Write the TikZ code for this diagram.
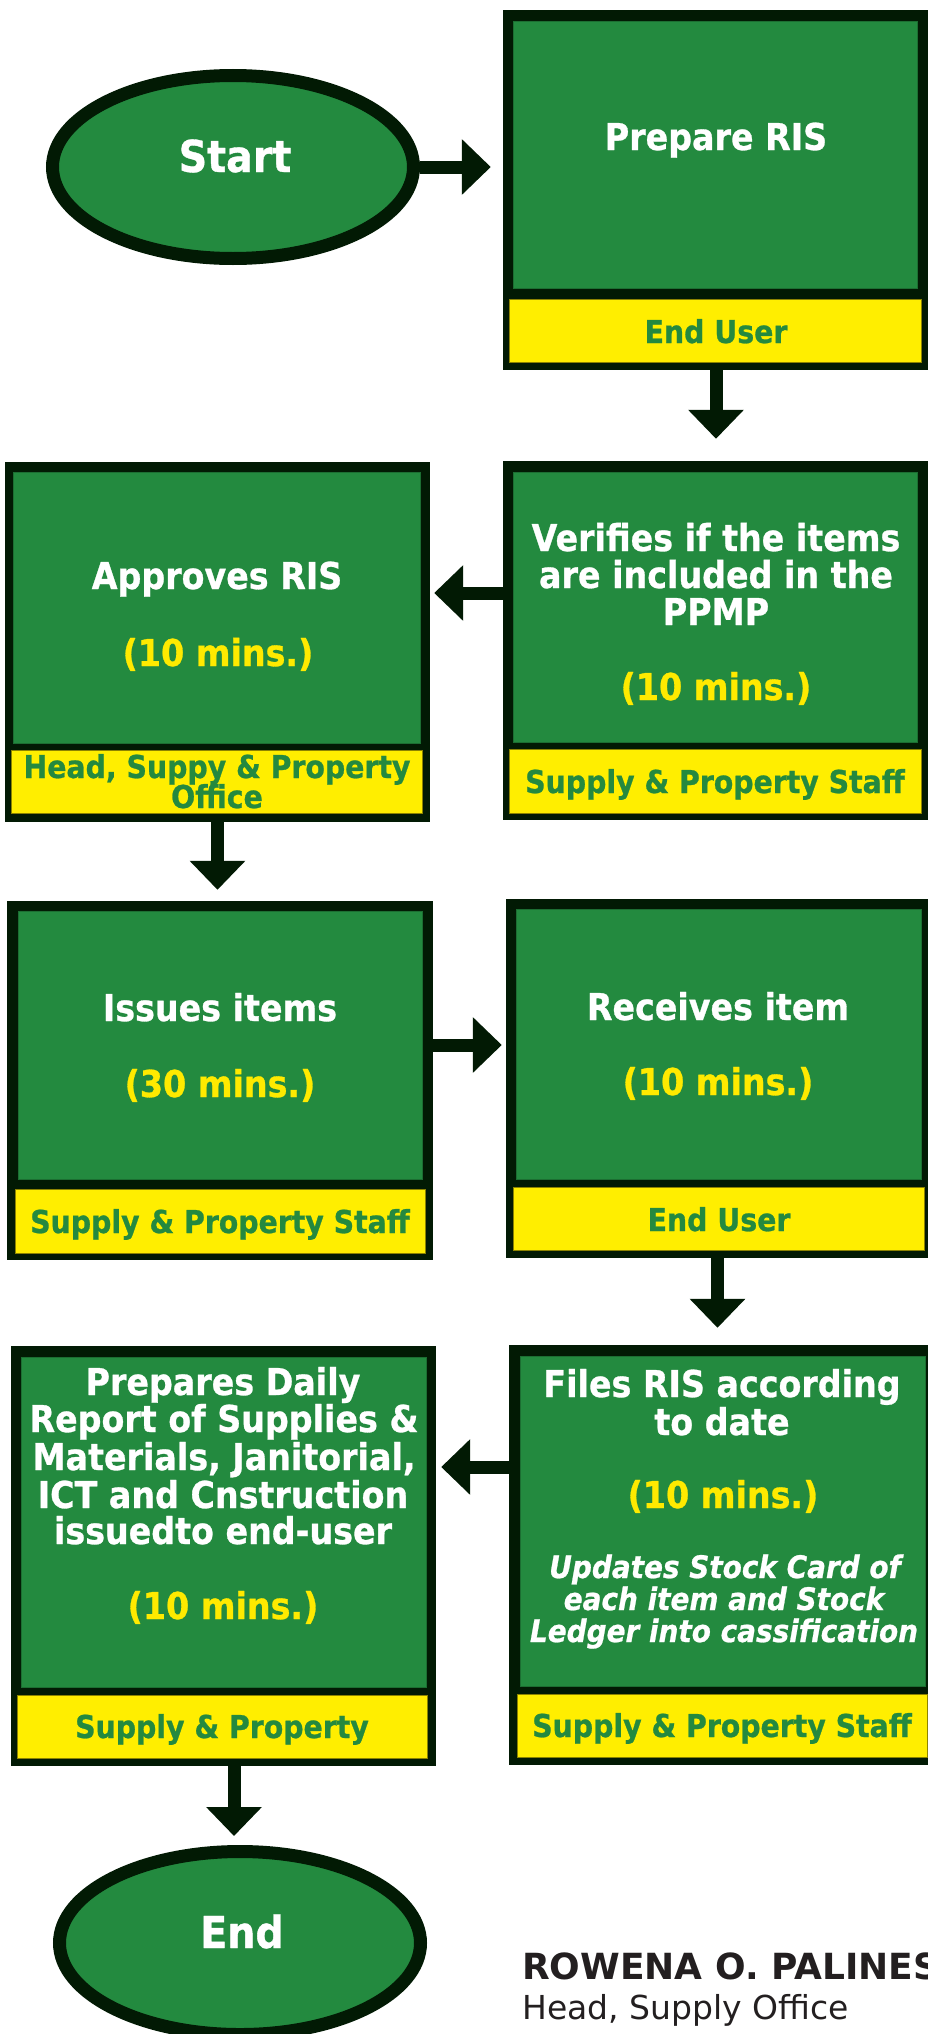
\documentclass[tikz,border=0pt]{standalone}
\usepackage{fontspec}
\usetikzlibrary{shapes.geometric,arrows.meta}
\newfontfamily\boxfont{DejaVu Sans}[FakeStretch=0.9, BoldFeatures={FakeBold=0.8}, BoldItalicFeatures={FakeBold=0.8}]
\newfontfamily\signfont{DejaVu Sans}

\definecolor{darkline}{HTML}{021A04}
\definecolor{boxgreen}{HTML}{238A3F}
\definecolor{rolegreen}{HTML}{24893F}
\definecolor{roleyellow}{HTML}{FFEE00}
\definecolor{minsyellow}{HTML}{FFEA00}
\definecolor{signink}{HTML}{231F20}

\tikzset{
  terminal/.style={ellipse, draw=darkline, fill=boxgreen, line width=13pt,
    minimum width=361pt, minimum height=183pt, inner sep=0pt},
  outerbox/.style={rectangle, fill=darkline, draw=none, inner sep=0pt},
  greenpart/.style={fill=boxgreen, draw=boxgreen!80!black, line width=0.8pt},
  yellowpart/.style={fill=roleyellow, draw=roleyellow!55!black, line width=0.8pt},
  flowarrow/.style={draw=darkline, line width=13pt,
    -{Triangle[width=54pt,length=29pt]}},
  title/.style={anchor=base, inner sep=0pt, text=white,
    font=\boxfont\bfseries\fontsize{44}{44}\selectfont},
  main/.style={anchor=base, inner sep=0pt, text=white,
    font=\boxfont\bfseries\fontsize{37}{37}\selectfont},
  mins/.style={main, text=minsyellow},
  note/.style={anchor=base, inner sep=0pt, text=white,
    font=\boxfont\bfseries\itshape\fontsize{31}{31}\selectfont},
  role/.style={anchor=base, inner sep=0pt, text=rolegreen,
    font=\boxfont\bfseries\fontsize{31.5}{31.5}\selectfont},
}

\begin{document}
\begin{tikzpicture}[x=1pt,y=-1pt]
\useasboundingbox (0,0) rectangle (928,2034);

% ---- terminals ----
\node[terminal] (start) at (233,167) {};
\node[title] (startt) at (235,172) {Start};
\node[terminal] (end) at (240,1943) {};
\node[title] (endt) at (242,1948) {End};

% ---- process boxes: dark frame, green body, yellow role strip ----
\node[outerbox, minimum width=426pt, minimum height=360pt] (b1) at (716,190) {};
\fill[greenpart] (513,21) rectangle (917,288);
\fill[yellowpart] (509,299) rectangle (921,362);

\node[outerbox, minimum width=426pt, minimum height=359pt] (b2) at (716,640.5) {};
\fill[greenpart] (513,472) rectangle (917,742);
\fill[yellowpart] (509,749) rectangle (921,813);

\node[outerbox, minimum width=425pt, minimum height=360pt] (b3) at (217.5,642) {};
\fill[greenpart] (13,472) rectangle (420,743);
\fill[yellowpart] (11,750) rectangle (422,813);

\node[outerbox, minimum width=426pt, minimum height=359pt] (b4) at (220,1080.5) {};
\fill[greenpart] (18,911) rectangle (422,1179);
\fill[yellowpart] (15,1189) rectangle (425,1253);

\node[outerbox, minimum width=423pt, minimum height=359pt] (b5) at (717.5,1078.5) {};
\fill[greenpart] (516,909) rectangle (921,1179);
\fill[yellowpart] (513,1187) rectangle (924,1250);

\node[outerbox, minimum width=422pt, minimum height=420pt] (b6) at (720,1555) {};
\fill[greenpart] (520,1356) rectangle (925,1686);
\fill[yellowpart] (517,1694) rectangle (927,1757);

\node[outerbox, minimum width=425pt, minimum height=420pt] (b7) at (223.5,1556) {};
\fill[greenpart] (21,1357) rectangle (426,1687);
\fill[yellowpart] (17,1695) rectangle (427,1758);

% ---- box texts ----
\node[main] (t1) at (716,150) {Prepare RIS};
\node[role] (r1) at (716,343) {End User};

\node[main] (t2a) at (716,551) {Verifies if the items};
\node[main] (t2b) at (716,588) {are included in the};
\node[main] (t2c) at (716,625) {PPMP};
\node[mins] (m2) at (716,700) {(10 mins.)};
\node[role] (r2) at (715,793) {Supply \& Property Staff};

\node[main] (t3) at (217,589) {Approves RIS};
\node[mins] (m3) at (218,666) {(10 mins.)};
\node[role] (r3a) at (217,778) {Head, Suppy \& Property};
\node[role] (r3b) at (217,808) {Office};

\node[main] (t4) at (220,1021) {Issues items};
\node[mins] (m4) at (220,1097) {(30 mins.)};
\node[role] (r4) at (220,1233) {Supply \& Property Staff};

\node[main] (t5) at (718,1020) {Receives item};
\node[mins] (m5) at (718,1095) {(10 mins.)};
\node[role] (r5) at (719,1231) {End User};

\node[main] (t6a) at (722,1397) {Files RIS according};
\node[main] (t6b) at (722,1435) {to date};
\node[mins] (m6) at (723,1508) {(10 mins.)};
\node[note] (n6a) at (725,1578) {Updates Stock Card of};
\node[note] (n6b) at (724,1610) {each item and Stock};
\node[note] (n6c) at (724,1642) {Ledger into cassification};
\node[role] (r6) at (722,1737) {Supply \& Property Staff};

\node[main] (t7a) at (223,1395) {Prepares Daily};
\node[main] (t7b) at (224,1432) {Report of Supplies \&};
\node[main] (t7c) at (224,1470) {Materials, Janitorial,};
\node[main] (t7d) at (223,1508) {ICT and Cnstruction};
\node[main] (t7e) at (223,1544) {issuedto end-user};
\node[mins] (m7) at (223,1619) {(10 mins.)};
\node[role] (r7) at (222,1738) {Supply \& Property};

% ---- connectors ----
\draw[flowarrow, shorten >=12pt] (start.east) -- (start.east -| b1.west);
\draw[flowarrow, shorten >=22pt] (b1.south) -- (b2.north);
\draw[flowarrow, shorten >=4pt] ([yshift=47.5pt]b2.west) -- ([yshift=49pt]b3.east);
\draw[flowarrow, shorten >=11pt] (b3.south) -- (b3.south |- b4.north);
\draw[flowarrow, shorten >=4pt] ([yshift=35.5pt]b4.east) -- ([yshift=33.5pt]b5.west);
\draw[flowarrow, shorten >=17pt] (b5.south) -- (b5.south |- b6.north);
\draw[flowarrow, shorten >=5pt] ([yshift=88pt]b6.west) -- ([yshift=89pt]b7.east);
\draw[flowarrow, shorten >=9pt] ([xshift=10.5pt]b7.south) -- ([xshift=10.5pt]b7.south |- end.north);

% ---- signature ----
\node[anchor=base west, inner sep=0pt, text=signink,
  font=\signfont\bfseries\fontsize{36}{36}\selectfont] (sname) at (522,1979) {ROWENA O. PALINES};
\node[anchor=base west, inner sep=0pt, text=signink,
  font=\signfont\fontsize{33}{33}\selectfont] (stitle) at (522,2019) {Head, Supply Office};
\end{tikzpicture}
\end{document}
